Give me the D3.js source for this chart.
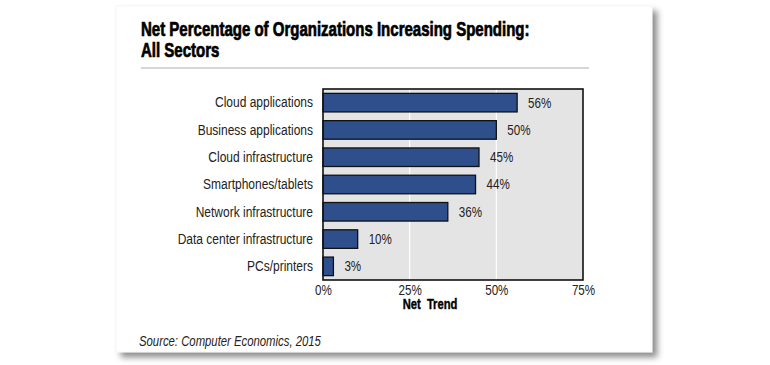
<!DOCTYPE html>
<html>
<head>
<meta charset="utf-8">
<script src="https://cdn.jsdelivr.net/npm/d3@7"></script>
<style>
  body { margin: 0; background: #fff; }
  svg { display: block; }
  text { font-family: "Liberation Sans", Arial, sans-serif; }
</style>
</head>
<body>
<div id="chart"></div>
<script>
// data
var categories = ["Cloud applications", "Business applications", "Cloud infrastructure",
    "Smartphones/tablets", "Network infrastructure", "Data center infrastructure", "PCs/printers"];
var values = [56, 50, 45, 44, 36, 10, 3];
var tick_values = [0, 25, 50, 75];
var title_lines = ["Net Percentage of Organizations Increasing Spending:", "All Sectors"];
var axis_title = "Net  Trend";
var source_text = "Source: Computer Economics, 2015";

var width = 770, height = 365;
var plot = {left: 323, right: 583, top: 89, bottom: 280};

// no condensed font installed, so squeeze text horizontally around its x
function condense(sel, k) {
    sel.each(function() {
        var t = d3.select(this);
        var x0 = +t.attr("x") || 0;
        t.attr("transform", `translate(${x0 * (1 - k)},0) scale(${k},1)`);
    });
}

var svg = d3.select("#chart").append("svg")
    .attr("width", width)
    .attr("height", height);

// card with drop shadow
var defs = svg.append("defs");
var filt = defs.append("filter").attr("id", "shadow")
    .attr("x", "-5%").attr("y", "-5%").attr("width", "115%").attr("height", "120%");
filt.append("feDropShadow")
    .attr("dx", 5).attr("dy", 5).attr("stdDeviation", 3)
    .attr("flood-color", "#000").attr("flood-opacity", 0.45);

svg.append("rect")
    .attr("x", 116).attr("y", 6)
    .attr("width", 536).attr("height", 346)
    .attr("fill", "#fff")
    .attr("stroke", "#eeeeee")
    .attr("stroke-width", 0.6)
    .attr("filter", "url(#shadow)");

// title (heavy condensed look: bold + thin stroke)
var title = svg.append("text")
    .attr("x", 141).attr("y", 36)
    .attr("font-size", 19.5).attr("font-weight", "bold")
    .attr("fill", "#000")
    .attr("stroke", "#000").attr("stroke-width", 0.7);
title.selectAll("tspan").data(title_lines).join("tspan")
    .attr("x", 141)
    .attr("dy", (d, i) => i === 0 ? 0 : 21)
    .text(d => d);
condense(title, 0.77);

svg.append("line")
    .attr("x1", 141).attr("x2", 589)
    .attr("y1", 68).attr("y2", 68)
    .attr("stroke", "#c8c8c8").attr("stroke-width", 1.5);

// scales
var x = d3.scaleLinear()
    .domain([0, 75])
    .range([plot.left, plot.right]);

var y = d3.scaleBand()
    .domain(categories)
    .range([plot.top, plot.bottom])
    .paddingInner(0.32)
    .paddingOuter(0.16);

// plot background and grid lines
svg.append("rect")
    .attr("x", plot.left).attr("y", plot.top)
    .attr("width", plot.right - plot.left)
    .attr("height", plot.bottom - plot.top)
    .attr("fill", "#e4e4e4");

svg.selectAll(".grid").data(tick_values.slice(1, -1)).join("line")
    .attr("class", "grid")
    .attr("x1", d => x(d)).attr("x2", d => x(d))
    .attr("y1", plot.top).attr("y2", plot.bottom)
    .attr("stroke", "#fff").attr("stroke-width", 1.2);

// bars
var bar_data = categories.map((c, i) => ({cat: c, val: values[i]}));

svg.selectAll(".bar").data(bar_data).join("rect")
    .attr("class", "bar")
    .attr("x", x(0))
    .attr("y", d => y(d.cat))
    .attr("width", d => x(d.val) - x(0))
    .attr("height", y.bandwidth())
    .attr("fill", "#2e4f8c")
    .attr("stroke", "#111")
    .attr("stroke-width", 1.3);

var val_labels = svg.selectAll(".val").data(bar_data).join("text")
    .attr("class", "val")
    .attr("x", d => x(d.val) + 11)
    .attr("y", d => y(d.cat) + y.bandwidth() / 2 + 5)
    .attr("font-size", 14.5)
    .attr("fill", "#222")
    .text(d => d.val + "%");
condense(val_labels, 0.8);

// frame
svg.append("rect")
    .attr("x", plot.left).attr("y", plot.top)
    .attr("width", plot.right - plot.left)
    .attr("height", plot.bottom - plot.top)
    .attr("fill", "none")
    .attr("stroke", "#111").attr("stroke-width", 1.6);

// y axis labels
var y_axis = svg.append("g")
    .attr("transform", `translate(${plot.left},0)`)
    .call(d3.axisLeft(y).tickSize(0).tickPadding(10));
y_axis.select(".domain").remove();
y_axis.selectAll("text")
    .attr("font-size", 15)
    .attr("font-family", null)
    .attr("fill", "#222");
condense(y_axis.selectAll("text"), 0.8);

// x axis
var x_axis = svg.append("g")
    .attr("transform", `translate(0,${plot.bottom})`)
    .call(d3.axisBottom(x).tickValues(tick_values).tickFormat(d => d + "%").tickSize(0).tickPadding(5));
x_axis.select(".domain").remove();
x_axis.selectAll("text")
    .attr("font-size", 14.5)
    .attr("font-family", null)
    .attr("fill", "#222");
condense(x_axis.selectAll("text"), 0.8);

var x_title = svg.append("text")
    .attr("x", 430).attr("y", 309)
    .attr("text-anchor", "middle")
    .attr("font-size", 14).attr("font-weight", "bold")
    .attr("fill", "#000")
    .attr("stroke", "#000").attr("stroke-width", 0.4)
    .attr("xml:space", "preserve")
    .style("white-space", "pre")
    .text(axis_title);
condense(x_title, 0.8);

var source = svg.append("text")
    .attr("x", 139).attr("y", 346)
    .attr("font-size", 14).attr("font-style", "italic")
    .attr("fill", "#222")
    .text(source_text);
condense(source, 0.81);
</script>
</body>
</html>
